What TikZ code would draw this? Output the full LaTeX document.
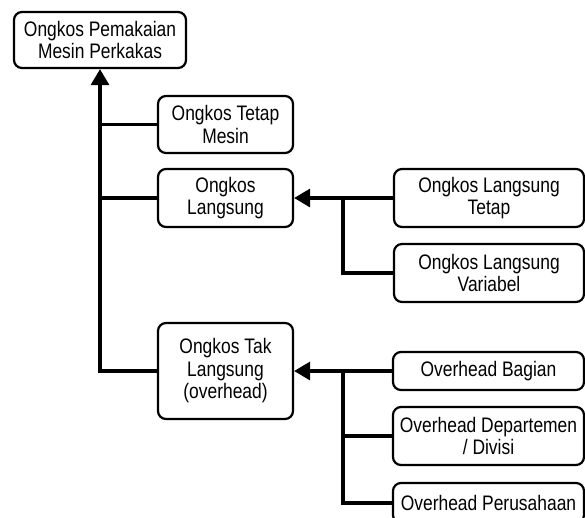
\documentclass[tikz,border=0pt]{standalone}
\usepackage{fontspec}
\setmainfont{Liberation Sans}[FakeStretch=0.83]
\usetikzlibrary{arrows.meta}

\tikzset{
  box/.style={draw, line width=2.2pt, rounded corners=8pt, align=center,
    inner sep=0pt, font=\fontsize{21pt}{22.5pt}\selectfont},
  link/.style={line width=3.2pt},
  feed/.style={link, -{Triangle[length=16pt,width=18pt]}},
}

\begin{document}
\begin{tikzpicture}[x=1pt,y=-1pt]
\useasboundingbox (0,0) rectangle (585,517);

% cost hierarchy
\node[box, minimum width=172pt, minimum height=56pt] (top) at (100,40)
  {Ongkos Pemakaian\\Mesin Perkakas};
\node[box, minimum width=135pt, minimum height=57pt] (tm) at (225.5,124.5)
  {Ongkos Tetap\\Mesin};
\node[box, minimum width=135pt, minimum height=58pt] (ol) at (225.5,198)
  {Ongkos\\Langsung};
\node[box, minimum width=135pt, minimum height=96pt] (tl) at (225.5,371)
  {Ongkos Tak\\Langsung\\(overhead)};

\node[box, minimum width=190pt, minimum height=58pt] (olt) at (489,198)
  {Ongkos Langsung\\Tetap};
\node[box, minimum width=190pt, minimum height=58pt] (olv) at (489,273)
  {Ongkos Langsung\\Variabel};

\node[box, minimum width=191pt, minimum height=38pt] (ob) at (488.5,371)
  {Overhead Bagian};
\node[box, minimum width=191pt, minimum height=58pt] (od) at (488.5,436)
  {Overhead Departemen\\/ Divisi};
\node[box, minimum width=191pt, minimum height=40pt] (op) at (488.5,503)
  {Overhead Perusahaan};

% junction points
\coordinate (jl) at (343,198);
\coordinate (jo) at (343,371);

% main trunk
\draw[feed] (tl.west) -| (top.south);
\draw[link] (tm.west) -- (tm.west -| top.south);
\draw[link] (ol.west) -- (ol.west -| top.south);

% direct costs
\draw[feed] (olt.west) -- (ol.east);
\draw[link] (olv.west) -| (jl);

% overhead costs
\draw[feed] (ob.west) -- (tl.east);
\draw[link] (od.west) -| (jo);
\draw[link] (op.west) -| (jo);
\end{tikzpicture}
\end{document}
